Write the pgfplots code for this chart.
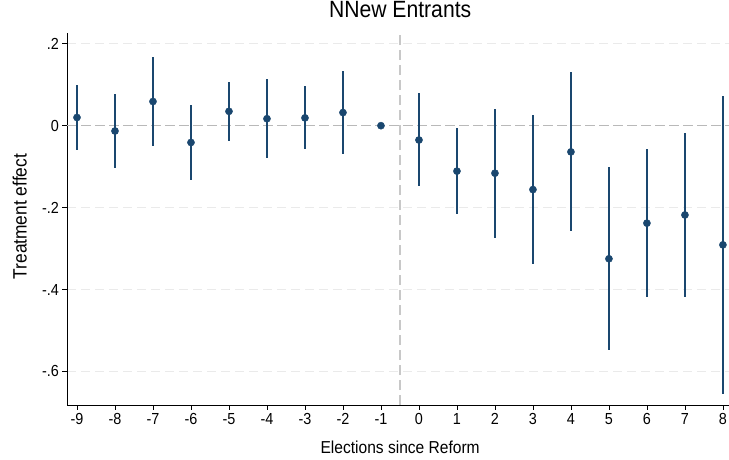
\documentclass[border=0pt]{standalone}
\usepackage{fontspec}
\setmainfont{Liberation Sans}[FakeStretch=0.9]
\usepackage{pgfplots}
\usepackage{pgfplotstable}
\pgfplotsset{compat=1.18}
\definecolor{stnavy}{RGB}{26,71,111}
\definecolor{gridc}{RGB}{234,234,234}
\definecolor{zeroc}{RGB}{185,185,185}
\definecolor{vlinec}{RGB}{200,200,200}
\pgfplotstableread{
x y yp ym
-9 0.020 0.080 0.079
-8 -0.013 0.090 0.090
-7 0.059 0.109 0.108
-6 -0.041 0.092 0.092
-5 0.035 0.072 0.072
-4 0.017 0.098 0.097
-3 0.019 0.078 0.077
-2 0.032 0.102 0.102
-1 0.000 0.000 0.000
0 -0.035 0.115 0.113
1 -0.111 0.106 0.105
2 -0.116 0.157 0.158
3 -0.156 0.183 0.182
4 -0.064 0.194 0.194
5 -0.325 0.223 0.223
6 -0.238 0.181 0.181
7 -0.218 0.199 0.200
8 -0.291 0.363 0.363
}\est
\begin{document}
\begin{tikzpicture}[x=1pt,y=1pt]
\useasboundingbox (0,0) rectangle (729,459);
\begin{axis}[
  at={(67.3pt,54pt)}, anchor=south west,
  scale only axis, width=661.7pt, height=372.3pt,
  xmin=-9.255, xmax=8.16, ymin=-0.682, ymax=0.227,
  axis x line*=bottom, axis y line*=left,
  axis line style={black, line width=0.9pt, -},
  xtick={-9,-8,-7,-6,-5,-4,-3,-2,-1,0,1,2,3,4,5,6,7,8},
  xticklabels={-9,-8,-7,-6,-5,-4,-3,-2,-1,0,1,2,3,4,5,6,7,8},
  ytick={-0.6,-0.4,-0.2,0,0.2},
  yticklabels={-.6,-.4,-.2,0,.2},
  tick align=outside, major tick length=4.8pt,
  tick style={black, line width=0.8pt},
  ticklabel style={font=\fontsize{16}{16}\selectfont},
  ymajorgrids, grid style={gridc, line width=1.2pt, dash pattern=on 9pt off 5pt},
  title={NNew Entrants},
  title style={font=\fontsize{23.5}{23.5}\selectfont, at={(axis description cs:0.503,1)}, anchor=base, yshift=9.4pt},
  xlabel={Elections since Reform},
  xlabel style={font=\fontsize{17.3}{17.3}\selectfont, at={(axis description cs:0.503,0)}, anchor=base, yshift=-48pt},
  ylabel={Treatment effect},
  ylabel style={font=\fontsize{19.3}{19.3}\selectfont, at={([xshift=-40.6pt]axis description cs:0,0.506)}, anchor=base},
  clip=false,
]
\addplot[zeroc, line width=1.4pt, dash pattern=on 9.5pt off 4.5pt, forget plot] coordinates {(-9.255,0) (8.16,0)};
\addplot[vlinec, line width=1.3pt, dash pattern=on 10pt off 5pt, forget plot] coordinates {(-0.5,-0.682) (-0.5,0.227)};
\addplot[only marks, mark=*, mark size=3.6pt, stnavy, mark options={fill=stnavy, draw=stnavy},
  error bars/.cd, y dir=both, y explicit, error mark=none,
  error bar style={line width=1.3pt, stnavy}]
  table[x=x, y=y, y error plus=yp, y error minus=ym]{\est};
\end{axis}
\end{tikzpicture}
\end{document}
